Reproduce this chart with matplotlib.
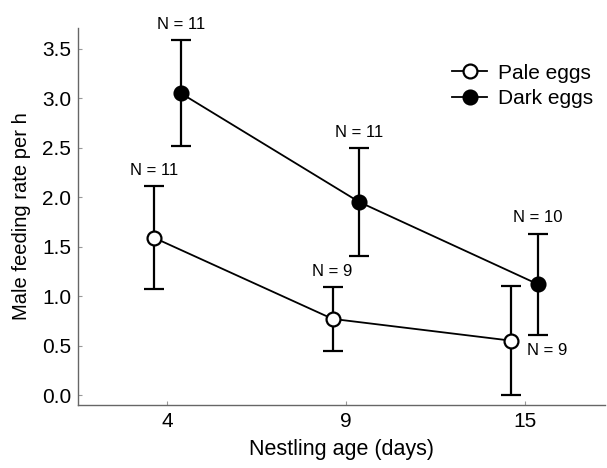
"""Male feeding rate by nestling age, pale vs dark eggs."""
import numpy as np
import matplotlib
matplotlib.use("Agg")
import matplotlib.pyplot as plt
from matplotlib.lines import Line2D

plt.rcParams["font.family"] = ["Liberation Sans", "DejaVu Sans"]

ages = ["4", "9", "15"]
pale_mean = [1.59, 0.77, 0.55]
pale_err = [0.52, 0.32, 0.55]
pale_n = [11, 9, 9]
dark_mean = [3.05, 1.95, 1.12]
dark_err = [0.535, 0.545, 0.51]
dark_n = [11, 11, 10]

x = np.arange(len(ages))
shift = 0.075

fig = plt.figure(figsize=(6.07, 4.68), dpi=100)
ax = fig.add_axes([0.1285, 0.1346, 0.868, 0.806])

style = dict(color="black", lw=1.3, marker="o", ms=10, mec="black", mew=1.6,
             capsize=7, capthick=1.6, elinewidth=1.6, zorder=3)
ax.errorbar(x - shift, pale_mean, yerr=pale_err, mfc="white", **style)
ax.errorbar(x + shift, dark_mean, yerr=dark_err, mfc="black", **style)

# sample sizes above the upper whisker (last pale one sits below-right)
for i, (m, e, n) in enumerate(zip(dark_mean, dark_err, dark_n)):
    ax.annotate(f"N = {n}", (x[i] + shift, m + e), xytext=(0, 6),
                textcoords="offset points", ha="center", va="bottom", fontsize=12)
for i, (m, e, n) in enumerate(zip(pale_mean, pale_err, pale_n)):
    if i == len(ages) - 1:
        ax.annotate(f"N = {n}", (x[i] + shift, m), xytext=(7, -7),
                    textcoords="offset points", ha="center", va="center", fontsize=12)
    else:
        ax.annotate(f"N = {n}", (x[i] - shift, m + e), xytext=(0, 6),
                    textcoords="offset points", ha="center", va="bottom", fontsize=12)

ax.set_xlim(-0.5, 2.45)
ax.set_ylim(-0.1, 3.71)
ax.set_xticks(x)
ax.set_xticklabels(ages)
yt = np.arange(0, 3.51, 0.5)
ax.set_yticks(yt)
ax.set_yticklabels([f"{v:.1f}" for v in yt])
ax.tick_params(direction="in", length=3, color="#999999", labelsize=15, pad=5)
for side in ["top", "right"]:
    ax.spines[side].set_visible(False)
for side in ["left", "bottom"]:
    ax.spines[side].set_color("#666666")
    ax.spines[side].set_linewidth(1.0)

ax.set_xlabel("Nestling age (days)", fontsize=15.5, labelpad=6)
ax.set_ylabel("Male feeding rate per h", fontsize=14.5, labelpad=8)

handles = [
    Line2D([], [], color="black", lw=1.3, marker="o", ms=10, mec="black",
           mew=1.6, mfc="white", label="Pale eggs"),
    Line2D([], [], color="black", lw=1.3, marker="o", ms=10, mec="black",
           mew=1.6, mfc="black", label="Dark eggs"),
]
ax.legend(handles=handles, loc="upper left", bbox_to_anchor=(0.71, 0.905),
          frameon=False, fontsize=15, handlelength=1.7, handletextpad=0.5,
          labelspacing=0.3, borderpad=0, borderaxespad=0)

fig.savefig("out.png", dpi=100)
